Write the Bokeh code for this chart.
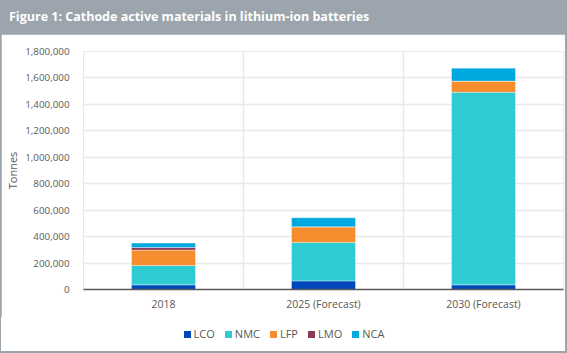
from bokeh.plotting import figure
from bokeh.models import (ColumnDataSource, FixedTicker, NumeralTickFormatter, Range1d, Div)
from bokeh.layouts import column
from bokeh.embed import file_html
from bokeh.resources import INLINE

categories = ["2018", "2025 (Forecast)", "2030 (Forecast)"]
series = ["LCO", "NMC", "LFP", "LMO", "NCA"]
LCO = [35000, 65000, 35000]
NMC = [147000, 291000, 1457000]
LFP = [116000, 118000, 84000]
LMO = [20000, 0, 0]
NCA = [33000, 68000, 98000]
colors = ["#0047ba", "#2ecbd2", "#f68d2e", "#8b3a57", "#00a8e0"]
y_ticks = [0, 200000, 400000, 600000, 800000, 1000000, 1200000, 1400000, 1600000, 1800000]
title_text = "Figure 1: Cathode active materials in lithium-ion batteries"

FONT = "Open Sans"
GREY_TXT = "#595959"

xs = [i + 0.5 for i in range(len(categories))]
source = ColumnDataSource(dict(x=xs, LCO=LCO, NMC=NMC, LFP=LFP, LMO=LMO, NCA=NCA))

# ---- main chart ----
p = figure(width=564, height=283, output_backend="svg", toolbar_location=None,
           x_range=Range1d(0, len(categories)), y_range=Range1d(0, y_ticks[-1]),
           min_border_top=17, min_border_bottom=28, min_border_left=82, min_border_right=2,
           margin=(0, 2, 0, 1), background_fill_color="white", border_fill_color="white")
p.outline_line_color = None

p.vbar_stack(series, x="x", width=0.4, color=colors, source=source,
             line_color="white", line_alpha=0.35, line_width=1)

p.xaxis.ticker = FixedTicker(ticks=xs)
p.xaxis.major_label_overrides = {x: c for x, c in zip(xs, categories)}
p.xaxis.major_tick_line_color = None
p.xaxis.minor_tick_line_color = None
p.xaxis.axis_line_color = "#595959"
p.xaxis.axis_line_width = 1.5
p.xaxis.major_label_standoff = 1
p.xaxis.major_label_text_font = FONT
p.xaxis.major_label_text_font_size = "10.5px"
p.xaxis.major_label_text_color = GREY_TXT

p.yaxis.ticker = FixedTicker(ticks=y_ticks)
p.yaxis.formatter = NumeralTickFormatter(format="0,0")
p.yaxis.axis_line_color = None
p.yaxis.major_tick_line_color = None
p.yaxis.minor_tick_line_color = None
p.yaxis.major_label_standoff = 8
p.yaxis.major_label_text_font = FONT
p.yaxis.major_label_text_font_size = "9.8px"
p.yaxis.major_label_text_color = GREY_TXT
p.yaxis.axis_label = "Tonnes"
p.yaxis.axis_label_text_font = FONT
p.yaxis.axis_label_text_font_size = "11px"
p.yaxis.axis_label_text_font_style = "normal"
p.yaxis.axis_label_text_color = GREY_TXT
p.yaxis.axis_label_standoff = 2

p.ygrid.grid_line_color = "#e8e8e8"
p.ygrid.grid_line_width = 1.5
p.xgrid.ticker = FixedTicker(ticks=[0, 1, 2, 3])
p.xgrid.grid_line_color = "#e8e8e8"
p.xgrid.grid_line_width = 1.5

# ---- legend strip (HTML, built from series / colors) ----
legend_html = "".join(
    f'<span style="display:inline-flex;align-items:center;margin:0 5px;">'
    f'<span style="display:inline-block;width:7px;height:7px;background:{c};margin-right:3px;"></span>'
    f'{s}</span>'
    for s, c in zip(series, colors))
legend_div = Div(text=legend_html, width=564, height=34, margin=(0, 2, 2, 1),
                 styles={"background-color": "white", "display": "flex",
                         "justify-content": "center", "align-items": "center",
                         "font-family": FONT, "font-size": "11px", "color": GREY_TXT,
                         "box-sizing": "border-box", "padding-left": "2px"})

title = Div(text=title_text, width=567, height=34,
            styles={"color": "white", "font-family": FONT, "font-weight": "bold",
                    "font-size": "12.5px", "line-height": "34px", "padding-left": "9px",
                    "box-sizing": "border-box", "white-space": "nowrap"},
            margin=(0, 0, 0, 0))

layout = column(title, p, legend_div, spacing=0, margin=0,
                styles={"background-color": "#9ca5ad"})

open("out.html", "w").write(file_html(layout, INLINE))
